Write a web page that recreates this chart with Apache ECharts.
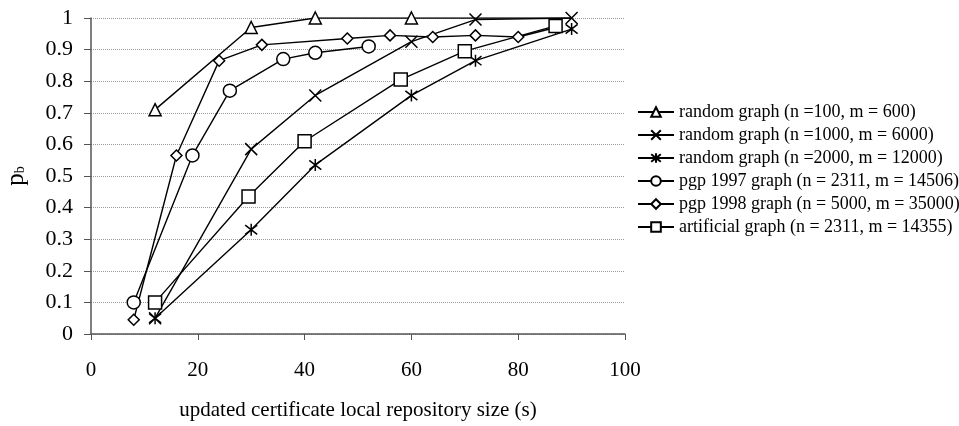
<!DOCTYPE html>
<html>
<head>
<meta charset="utf-8">
<script src="https://cdn.jsdelivr.net/npm/echarts@6/dist/echarts.min.js"></script>
<style>html,body{margin:0;padding:0;background:#fff}#c{width:959px;height:426px}</style>
</head>
<body>
<div id="c"></div>
<script>
var seriesNames = [
  'random graph (n =100, m = 600)',
  'random graph (n =1000, m = 6000)',
  'random graph (n =2000, m = 12000)',
  'pgp 1997 graph (n = 2311, m = 14506)',
  'pgp 1998 graph (n = 5000, m = 35000)',
  'artificial graph (n = 2311, m = 14355)'
];
var xTri = [12, 30, 42, 60, 72, 90];
var yTri = [0.71, 0.97, 1.0, 1.0, 1.0, 1.0];
var xCross = [12, 30, 42, 60, 72, 90];
var yCross = [0.05, 0.585, 0.755, 0.925, 0.995, 1.0];
var xStar = [12, 30, 42, 60, 72, 90];
var yStar = [0.05, 0.33, 0.535, 0.755, 0.865, 0.965];
var xCirc = [8, 19, 26, 36, 42, 52];
var yCirc = [0.1, 0.565, 0.77, 0.87, 0.89, 0.91];
var xDia = [8, 16, 24, 32, 48, 56, 64, 72, 80, 87];
var yDia = [0.045, 0.565, 0.865, 0.915, 0.935, 0.945, 0.94, 0.945, 0.94, 0.97];
var xSq = [12, 29.5, 40, 58, 70, 87];
var ySq = [0.1, 0.435, 0.61, 0.805, 0.895, 0.975];
// points whose markers are hidden under other markers in the reference
var hiddenTri = [4, 5];
var xTicks = [0, 20, 40, 60, 80, 100];
var yTicks = [0, 0.1, 0.2, 0.3, 0.4, 0.5, 0.6, 0.7, 0.8, 0.9, 1];

function pairs(xs, ys, hidden) {
  return xs.map(function (x, i) {
    if (hidden && hidden.indexOf(i) >= 0) return { value: [x, ys[i]], symbol: 'none' };
    return [x, ys[i]];
  });
}

var symbols = [
  'triangle',
  'path://M0,0L10,10M10,0L0,10',
  'path://M0,0L10,10M10,0L0,10M5,-1.5L5,11.5',
  'circle',
  'diamond',
  'rect'
];
var sizes = [12, 12, 12, 13, 11, 13];
var data = [pairs(xTri, yTri, hiddenTri), pairs(xCross, yCross), pairs(xStar, yStar),
            pairs(xCirc, yCirc), pairs(xDia, yDia), pairs(xSq, ySq)];

var FONT = '"Liberation Serif", "DejaVu Serif", serif';
var chart = echarts.init(document.getElementById('c'));
chart.setOption({
  backgroundColor: '#fff',
  animation: false,
  grid: { left: 91, right: 334, top: 18, bottom: 92, containLabel: false, outerBoundsMode: 'none' },
  legend: {
    orient: 'vertical', left: 632, top: 98,
    itemWidth: 36, itemHeight: 12, itemGap: 5,
    data: seriesNames,
    textStyle: { fontSize: 18, fontFamily: FONT, color: '#000' }
  },
  xAxis: {
    type: 'value', min: 0, max: 100, interval: 20,
    name: 'updated certificate local repository size (s)',
    nameLocation: 'middle', nameGap: 66,
    nameTextStyle: { fontSize: 21, fontFamily: FONT, color: '#000' },
    axisLine: { show: true, lineStyle: { color: '#555', width: 1.5 } },
    axisTick: { show: true, length: 6, lineStyle: { color: '#555' } },
    axisLabel: { margin: 26, fontSize: 21, fontFamily: FONT, color: '#000' },
    splitLine: { show: false }
  },
  yAxis: {
    type: 'value', min: 0, max: 1, interval: 0.1,
    name: '{p|p}{b|b}',
    nameLocation: 'middle', nameRotate: 90, nameGap: 62,
    nameTextStyle: { rich: {
      p: { fontSize: 25, fontFamily: FONT, color: '#000' },
      b: { fontSize: 14, fontFamily: FONT, color: '#000', padding: [8, 0, 0, 0] } } },
    axisLine: { show: true, lineStyle: { color: '#555', width: 1.5 } },
    axisTick: { show: true, length: 7, lineStyle: { color: '#555' } },
    axisLabel: { margin: 18, fontSize: 22, fontFamily: FONT, color: '#000',
      formatter: function (v) { return String(+v.toFixed(1)); } },
    splitLine: { show: true, lineStyle: { color: '#999', type: [1, 1], width: 1 } }
  },
  series: seriesNames.map(function (n, i) {
    return {
      name: n, type: 'line', data: data[i],
      symbol: symbols[i], symbolSize: sizes[i],
      showAllSymbol: true,
      lineStyle: { color: '#000', width: 1.4 },
      itemStyle: { color: '#fff', borderColor: '#000', borderWidth: 1.5 },
      emphasis: { disabled: true }
    };
  })
});
</script>
</body>
</html>
